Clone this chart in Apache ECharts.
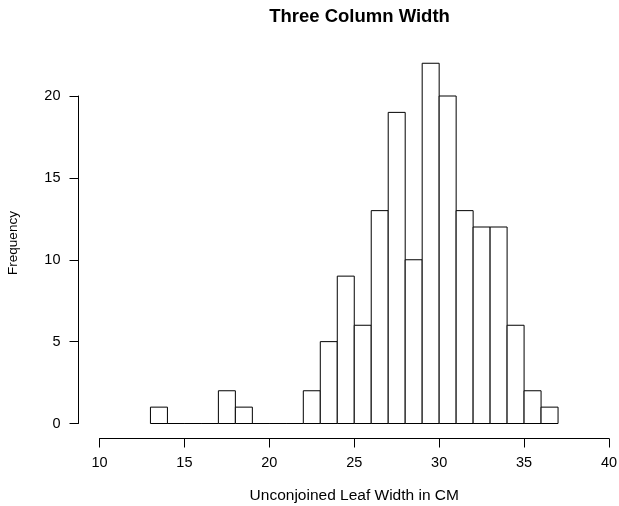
<!DOCTYPE html>
<html>
<head>
<meta charset="utf-8">
<script src="https://cdn.jsdelivr.net/npm/echarts@6/dist/echarts.min.js"></script>
<style>
html,body{margin:0;padding:0;background:#fff;}
#chart{width:619px;height:506px;}
</style>
</head>
<body>
<div id="chart"></div>
<script>
var binStarts = [13,14,15,16,17,18,19,20,21,22,23,24,25,26,27,28,29,30,31,32,33,34,35,36];
var binEnds   = [14,15,16,17,18,19,20,21,22,23,24,25,26,27,28,29,30,31,32,33,34,35,36,37];
var counts    = [1,0,0,0,2,1,0,0,0,2,5,9,6,13,19,10,22,20,13,12,12,6,2,1];
var xTicks = [10,15,20,25,30,35,40];
var yTicks = [0,5,10,15,20];

var data = binStarts.map(function(s,i){ return [s, binEnds[i], counts[i]]; });
var font = 'Liberation Sans, Arial, sans-serif';

var chart = echarts.init(document.getElementById('chart'), null, {renderer:'canvas'});
chart.setOption({
  animation:false,
  backgroundColor:'#fff',
  title:{
    text:'Three Column Width', left:354.5, top:2, textAlign:'center',
    textStyle:{fontFamily:font,fontWeight:'bold',fontSize:18.5,color:'#000'}
  },
  grid:{left:99.5, right:10, top:96, bottom:82.5, containLabel:false, outerBoundsMode:'none'},
  xAxis:{
    type:'value', min:xTicks[0], max:xTicks[xTicks.length-1], interval:5, offset:15,
    name:'Unconjoined Leaf Width in CM', nameLocation:'middle', nameGap:49,
    nameTextStyle:{fontFamily:font,fontSize:15.5,color:'#000'},
    axisLine:{show:true,onZero:false,lineStyle:{color:'#000',width:1}},
    axisTick:{show:true,length:9,inside:false,lineStyle:{color:'#000'}},
    axisLabel:{fontFamily:font,fontSize:14.5,color:'#000',margin:17,
      formatter:function(v){return xTicks.indexOf(v)>=0?String(v):'';}},
    splitLine:{show:false}
  },
  yAxis:{
    type:'value', min:yTicks[0], max:yTicks[yTicks.length-1], interval:5, offset:21,
    axisLine:{show:true,onZero:false,lineStyle:{color:'#000',width:1}},
    axisTick:{show:true,length:9,inside:false,lineStyle:{color:'#000'}},
    axisLabel:{fontFamily:font,fontSize:14.5,color:'#000',margin:18,
      formatter:function(v){return yTicks.indexOf(v)>=0?String(v):'';}},
    splitLine:{show:false}
  },
  graphic:[{
    type:'text', x:13, y:243, rotation:Math.PI/2,
    style:{text:'Frequency', fontFamily:font, fontSize:13.5, fill:'#000', align:'center', verticalAlign:'middle'}
  }],
  series:[{
    type:'custom',
    clip:false,
    data:data,
    encode:{x:[0,1], y:2},
    renderItem:function(params, api){
      var p1 = api.coord([api.value(0), api.value(2)]);
      var p2 = api.coord([api.value(1), 0]);
      return {
        type:'rect',
        shape:{x:p1[0], y:p1[1], width:p2[0]-p1[0], height:p2[1]-p1[1]},
        style:{fill:'#fff', stroke:'#000', lineWidth:1}
      };
    }
  }]
});
</script>
</body>
</html>
